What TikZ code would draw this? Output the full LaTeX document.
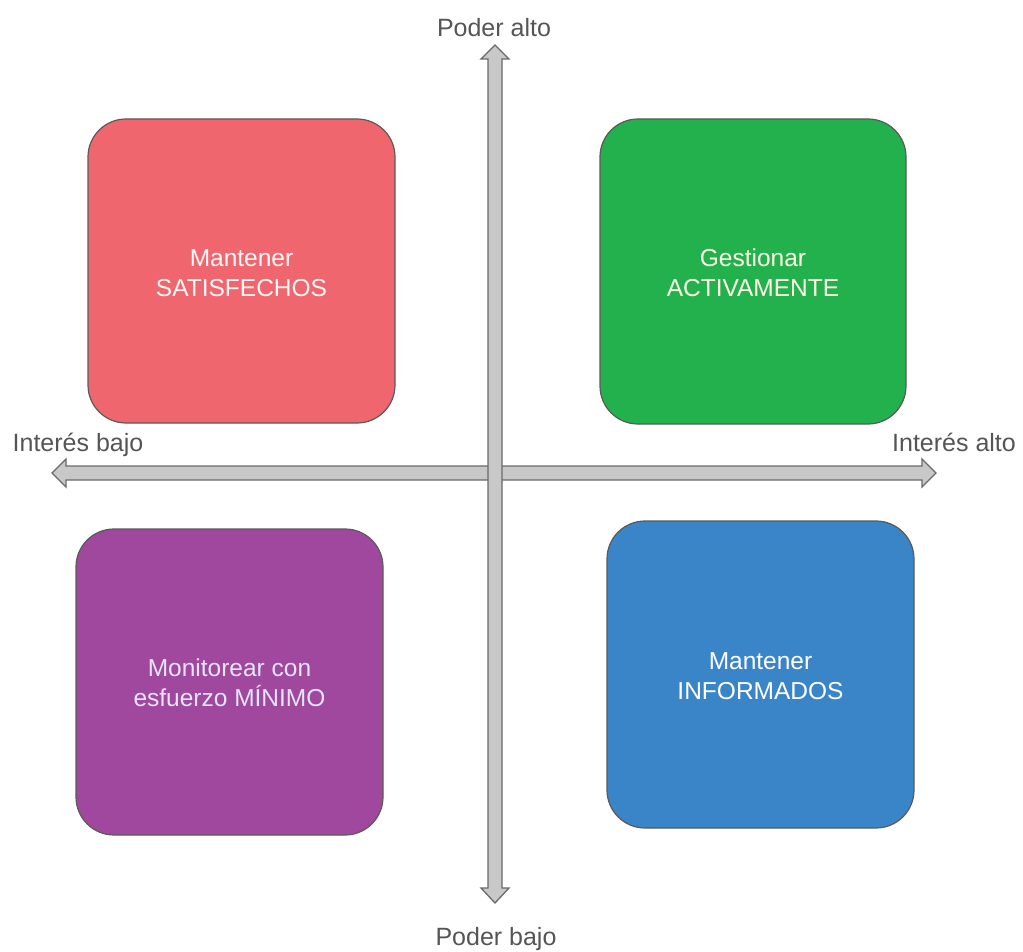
\documentclass[tikz,border=0pt]{standalone}
\usepackage{fontspec}
\setmainfont{Liberation Sans}
\definecolor{qred}{HTML}{F0666E}
\definecolor{qgreen}{HTML}{22B14C}
\definecolor{qpurple}{HTML}{A0479E}
\definecolor{qblue}{HTML}{3A84C8}
\definecolor{axisfill}{HTML}{C8C8C8}
\definecolor{axisdraw}{HTML}{6A6A6A}
\definecolor{labelgray}{HTML}{555555}
\definecolor{boxborder}{HTML}{5A5A5A}
\tikzset{
  quad/.style={draw=boxborder, line width=1.2pt, rounded corners=38pt, inner sep=0pt},
  quadtext/.style={align=center, font=\fontsize{24.5}{30}\selectfont, text=white},
  axislabel/.style={anchor=base, font=\fontsize{25}{30}\selectfont, text=labelgray, inner sep=0pt},
  axisarrow/.style={fill=axisfill, draw=axisdraw, line width=1.3pt, line join=miter},
}
\begin{document}
\begin{tikzpicture}[x=1pt,y=-1pt]
\useasboundingbox (0,0) rectangle (1023,952);
% quadrants
\draw[quad, fill=qred] (88,119) rectangle (395,423);
\draw[quad, fill=qgreen] (600,119) rectangle (906,424);
\draw[quad, fill=qpurple] (76,529) rectangle (383,835);
\draw[quad, fill=qblue] (607,521) rectangle (914,828);
\node[quadtext, text=white!85!qred!30!white] (tl) at (241.5,273) {Mantener\\SATISFECHOS};
\node[quadtext, text=white!90!yellow] (tr) at (753,273) {Gestionar\\ACTIVAMENTE};
\node[quadtext, text=white!90!blue] (bl) at (229.5,683) {Monitorear con\\esfuerzo MÍNIMO};
\node[quadtext] (br) at (760.5,676) {Mantener\\INFORMADOS};
% horizontal axis
\coordinate (hl) at (52,473);
\coordinate (hr) at (936,473);
\draw[axisarrow] (hl) -- ++(14,-14) -- ++(0,7) -- (922,466) -- ++(0,-7) -- (hr)
  -- (922,487) -- ++(0,-7) -- (66,480) -- ++(0,7) -- cycle;
% vertical axis
\coordinate (vt) at (495,45);
\coordinate (vb) at (495,903);
\draw[axisarrow] (vt) -- ++(14,14) -- ++(-7,0) -- (502,888) -- ++(7,0) -- (vb)
  -- (481,888) -- ++(7,0) -- (488,59) -- ++(-7,0) -- cycle;
% axis labels
\node[axislabel] (pa) at (494,37) {Poder alto};
\node[axislabel] (pb) at (496,945) {Poder bajo};
\node[axislabel] (ib) at (78,451) {Interés bajo};
\node[axislabel] (ia) at (954,451) {Interés alto};
\end{tikzpicture}
\end{document}
